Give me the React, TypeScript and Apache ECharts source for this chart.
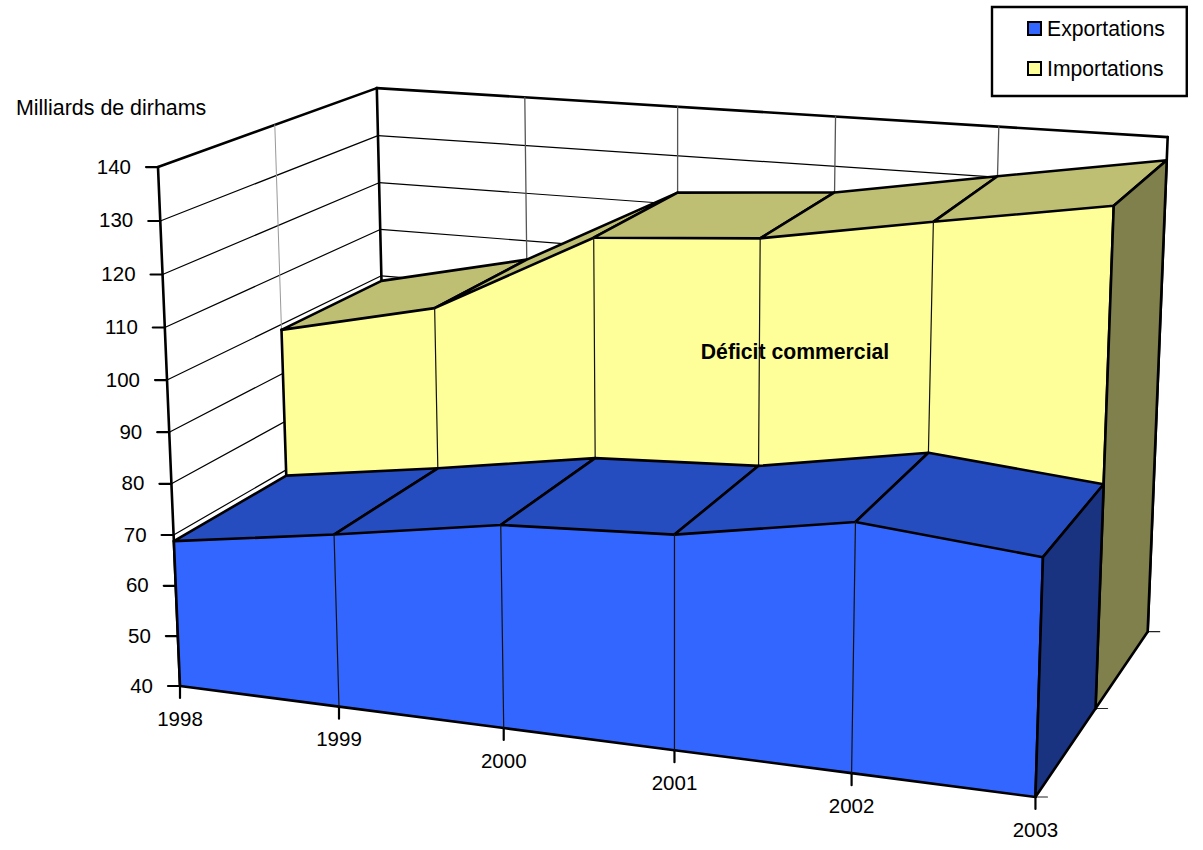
import React, { useEffect, useRef } from "react";
import * as echarts from "echarts";

// Trade figures, in billions of dirhams
const categories = ["1998", "1999", "2000", "2001", "2002", "2003"];
const exportations = [68.8, 73.6, 78.9, 80.6, 86.4, 83.6];
const importations = [98.9, 106.0, 122.4, 124.7, 130.2, 135.5];
const valueTicks = [40, 50, 60, 70, 80, 90, 100, 110, 120, 130, 140];
const depthTicks = [0, 0.5, 1];

const FONT = '"Liberation Sans", Arial, sans-serif';
const GRID_W = 1000;
const GRID_H = 800;
const STROKE = "#000";
const HEAVY = 2.6;

// Perspective camera: origin of the box plus the three vanishing points and their weights.
const ORIGIN = [180, 686];
const VANISH_X = [-8820, -482];
const VANISH_Y = [674, 12338];
const VANISH_Z = [1886, -456];
const WEIGHT_X = -0.0868;
const WEIGHT_Y = -0.04264;
const WEIGHT_Z = 0.1388;

function project(u: number, v: number, d: number): number[] {
  const a = WEIGHT_X * u;
  const b = WEIGHT_Y * v;
  const c = WEIGHT_Z * d;
  const w = 1 + a + b + c;
  return [
    (ORIGIN[0] + a * VANISH_X[0] + b * VANISH_Y[0] + c * VANISH_Z[0]) / w,
    (ORIGIN[1] + a * VANISH_X[1] + b * VANISH_Y[1] + c * VANISH_Z[1]) / w,
  ];
}

// The hidden cartesian grid supplies the scales; its pixels are normalised into the box.
function at(api: any, index: number, value: number, depth: number): number[] {
  const p = api.coord([index, value]);
  return project(p[0] / GRID_W, 1 - p[1] / GRID_H, depth);
}

function line(points: number[][], lineWidth: number, stroke = STROKE) {
  return {
    type: "polyline",
    shape: { points },
    style: { fill: "none", stroke, lineWidth, lineJoin: "round", lineCap: "round" },
  };
}

function face(points: number[][], fill: string) {
  return { type: "polygon", shape: { points }, style: { fill, stroke: fill, lineWidth: 0.5 } };
}

function label(text: string, x: number, y: number, align: string) {
  return {
    type: "text",
    x,
    y,
    style: { text, fill: "#000", fontSize: 20.5, fontFamily: FONT, align, verticalAlign: "middle" },
  };
}

// One band of the 3D area chart: each data item draws the slab up to the next year.
function bandRenderer(dNear: number, dFar: number, front: string, top: string, side: string, closeBottom: boolean) {
  return (_: any, api: any) => {
    const i = api.value(0);
    const v = api.value(1);
    const last = i === categories.length - 1;
    const base = valueTicks[0];
    const children: any[] = [];
    const a0 = at(api, i, base, dNear);
    const a1 = at(api, i, v, dNear);
    const a2 = at(api, i, v, dFar);
    if (last) {
      const s0 = at(api, i, base, dFar);
      children.push(face([a0, a1, a2, s0], side));
      children.push(line([a1, a2, s0, a0, a1], HEAVY));
    } else {
      const n = api.value(2);
      const b0 = at(api, i + 1, base, dNear);
      const b1 = at(api, i + 1, n, dNear);
      const b2 = at(api, i + 1, n, dFar);
      children.push(face([a0, b0, b1, a1], front));
      children.push(face([a1, b1, b2, a2], top));
      children.push(line([a1, a2, b2, b1, a1], HEAVY));
      if (closeBottom) children.push(line([a0, b0], HEAVY));
      if (i === 0) children.push(line([a0, a1], HEAVY));
      else children.push(line([a0, a1], 1.2, "#111"));
      if (i === categories.length - 2) {
        children.push(line([b0, b1], HEAVY));
      }
    }
    return { type: "group", children };
  };
}

function bandData(values: number[]) {
  return values.map((v, i) => [i, v, i < values.length - 1 ? values[i + 1] : v]);
}

export default function App() {
  const ref = useRef<HTMLDivElement>(null);

  useEffect(() => {
    const chart = echarts.init(ref.current!, null, { renderer: "svg" });
    const last = categories.length - 1;
    const minV = valueTicks[0];
    const maxV = valueTicks[valueTicks.length - 1];

    chart.setOption({
      animation: false,
      backgroundColor: "#fff",
      grid: { left: 0, top: 0, width: GRID_W, height: GRID_H, show: false },
      xAxis: { type: "category", data: categories, boundaryGap: false, show: false },
      yAxis: { type: "value", min: minV, max: maxV, interval: 10, show: false },
      legend: {
        orient: "vertical",
        left: 992,
        top: 7,
        padding: [11, 22, 17, 35],
        itemGap: 19,
        itemWidth: 13,
        itemHeight: 13,
        icon: "rect",
        borderColor: "#000",
        borderWidth: 2.4,
        selectedMode: false,
        itemStyle: { borderColor: "#000", borderWidth: 2 },
        textStyle: { fontFamily: FONT, fontSize: 21.2, color: "#000", padding: [0, 0, 0, 1] },
        data: ["Exportations", "Importations"],
      },
      graphic: [
        {
          type: "text",
          x: 16,
          y: 108,
          style: { text: "Milliards de dirhams", fill: "#000", fontSize: 21.4, fontFamily: FONT, verticalAlign: "middle" },
        },
        {
          type: "text",
          x: 795,
          y: 351,
          z: 10,
          style: {
            text: "Déficit commercial",
            fill: "#000",
            fontSize: 21.2,
            fontWeight: "bold",
            fontFamily: FONT,
            align: "center",
            verticalAlign: "middle",
          },
        },
      ],
      series: [
        {
          // value gridlines on the side and back walls, ticks and labels on the left
          type: "custom",
          name: "valueGrid",
          data: valueTicks.map((v) => [0, v]),
          silent: true,
          renderItem: (_: any, api: any) => {
            const v = api.value(1);
            const p0 = at(api, 0, v, 0);
            const p1 = at(api, 0, v, 1);
            const p2 = at(api, last, v, 1);
            return {
              type: "group",
              children: [
                line([p0, p1], v === maxV ? HEAVY : 1.2),
                line([p1, p2], v === maxV ? HEAVY : 1.2),
                line([[p0[0] - 12, p0[1]], p0], 2.2),
                label(String(v), p0[0] - 27, p0[1] - 1, "right"),
              ],
            };
          },
        },
        {
          // year gridlines on the back wall, ticks and labels along the front
          type: "custom",
          name: "categoryGrid",
          data: categories.map((_, i) => [i]),
          silent: true,
          renderItem: (_: any, api: any) => {
            const i = api.value(0);
            const edge = i === 0 || i === last;
            const base = at(api, i, minV, 0);
            const children: any[] = [
              line([at(api, i, minV, 1), at(api, i, maxV, 1)], edge ? HEAVY : 1.3, edge ? STROKE : "#555"),
              line([base, [base[0], base[1] + 12]], 2.2),
              label(categories[i], base[0], base[1] + 32, "center"),
            ];
            return { type: "group", children };
          },
        },
        {
          // depth divisions: wall line at mid-depth, ticks on the right floor edge
          type: "custom",
          name: "depthGrid",
          data: depthTicks.map((d) => [d]),
          silent: true,
          renderItem: (_: any, api: any) => {
            const d = api.value(0);
            const foot = at(api, last, minV, d);
            const children: any[] = [line([foot, [foot[0] + 12, foot[1]]], 1.2, "#222")];
            if (d === 0) children.push(line([at(api, 0, minV, 0), at(api, 0, maxV, 0)], HEAVY));
            if (d === 0.5) children.push(line([at(api, 0, minV, d), at(api, 0, maxV, d)], 1, "#999"));
            return { type: "group", children };
          },
        },
        {
          type: "custom",
          name: "Importations",
          itemStyle: { color: "#FFFF99" },
          data: bandData(importations),
          silent: true,
          renderItem: bandRenderer(0.5, 1, "#FFFF99", "#BFBF73", "#80804D", false),
        },
        {
          type: "custom",
          name: "Exportations",
          itemStyle: { color: "#3366FF" },
          data: bandData(exportations),
          silent: true,
          renderItem: bandRenderer(0, 0.5, "#3366FF", "#264DBF", "#193380", true),
        },
      ],
    });

    return () => chart.dispose();
  }, []);

  return <div ref={ref} style={{ position: "absolute", left: 0, top: 0, width: 1203, height: 850 }} />;
}
